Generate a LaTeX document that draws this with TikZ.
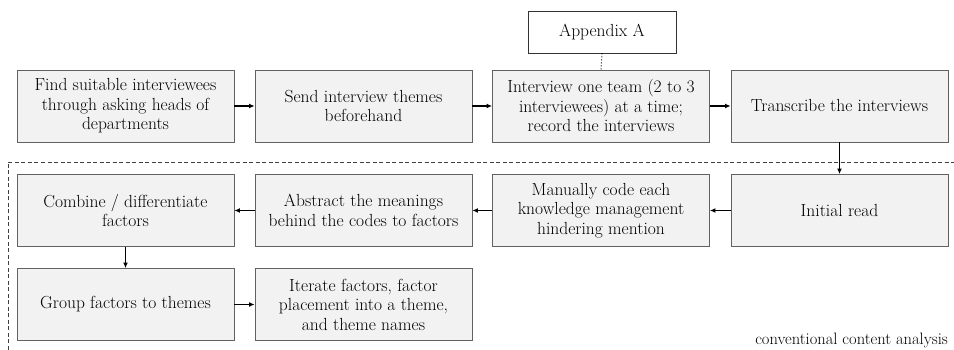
\documentclass[tikz,border=0pt]{standalone}
\usetikzlibrary{arrows.meta}
\begin{document}
\begin{tikzpicture}[x=1pt,y=1pt,
  stepbox/.style={draw=black!62,fill=black!5,line width=0.9pt,minimum width=217pt,minimum height=72pt,align=center,inner sep=2pt,font=\fontsize{17.5}{19.5}\selectfont},
  appbox/.style={draw=black!80,fill=white,line width=0.9pt,minimum width=148pt,minimum height=42pt,align=center,font=\fontsize{17.5}{19.5}\selectfont},
  flow/.style={line width=1.1pt,-{Latex[length=5.5pt,width=5pt]}},
  grp/.style={dashed,dash pattern=on 4pt off 2.5pt,line width=0.9pt,draw=black!75}]
\useasboundingbox (0,0) rectangle (954,350);
% group outline
\coordinate (gbl) at (8,0);
\coordinate (gtl) at (8,188);
\coordinate (gtr) at (954,188);
\draw[grp] (gbl) -- (gtl) -- (gtr);
% top row
\node[stepbox] (a1) at (125.5,244) {Find suitable interviewees\\through asking heads of\\departments};
\node[stepbox] (a2) at (363.5,244) {Send interview themes\\beforehand};
\node[stepbox] (a3) at (601,244) {Interview one team (2 to 3\\interviewees) at a time;\\record the interviews};
\node[stepbox] (a4) at (839.5,244) {Transcribe the interviews};
\node[appbox] (app) at (602,318) {Appendix A};
% second row
\node[stepbox] (b1) at (125.5,139.5) {Combine / differentiate\\factors};
\node[stepbox] (b2) at (363.5,139.5) {Abstract the meanings\\behind the codes to factors};
\node[stepbox] (b3) at (601,139.5) {Manually code each\\knowledge management\\hindering mention};
\node[stepbox] (b4) at (839.5,139.5) {Initial read};
% third row
\node[stepbox] (c1) at (125.5,45.5) {Group factors to themes};
\node[stepbox] (c2) at (363.5,45.5) {Iterate factors, factor\\placement into a theme,\\and theme names};
\node[anchor=base east,inner sep=0pt,font=\fontsize{16.5}{19}\selectfont] (lbl) at (948,5) {conventional content analysis};
% connectors
\draw[dotted,line width=1pt] (app.south) -- (a3.north);
\draw[flow] (a1) -- (a2);
\draw[flow] (a2) -- (a3);
\draw[flow] (a3) -- (a4);
\draw[flow] (a4) -- (b4);
\draw[flow] (b4) -- (b3);
\draw[flow] (b3) -- (b2);
\draw[flow] (b2) -- (b1);
\draw[flow] (b1) -- (c1);
\draw[flow] (c1) -- (c2);
\end{tikzpicture}
\end{document}
